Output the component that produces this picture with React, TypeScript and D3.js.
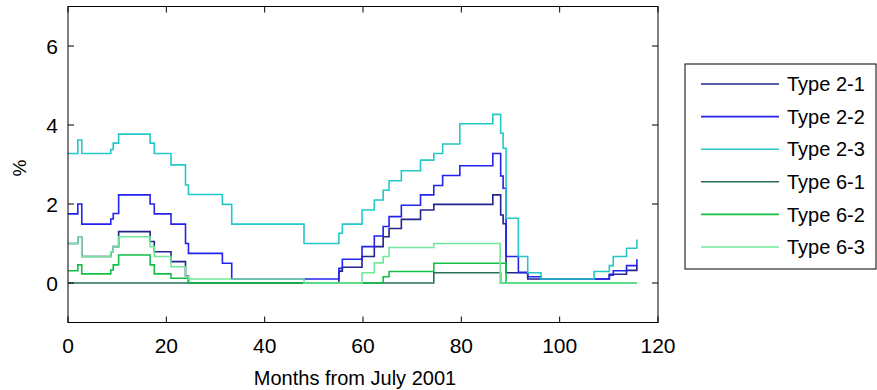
import React from "react";
import * as d3 from "d3";

const seriesNames = ["Type 2-1", "Type 2-2", "Type 2-3", "Type 6-1", "Type 6-2", "Type 6-3"];
const seriesColors = ["#23238f", "#2323f0", "#25c8c8", "#2a6e5a", "#12c045", "#72e89a"];

const type21: [number, number][] = [
  [0, 1.0], [2, 1.16], [2.8, 0.67], [8.7, 0.79], [9.2, 0.92], [10.3, 1.3], [16.7, 1.05], [17.55, 0.79],
  [20.95, 0.54], [23.9, 0.17], [24.5, 0],
  [55.1, 0.3], [55.8, 0.4], [59.8, 0.67], [62.3, 0.92], [64.1, 1.17], [65.3, 1.38], [67.8, 1.61],
  [71.7, 1.85], [74.4, 1.99], [86.4, 2.23], [88, 1.72], [88.5, 1.5], [89.1, 0.26], [93.5, 0.1],
  [110.1, 0.22], [113.6, 0.32], [115.7, 0.45],
];
const type22: [number, number][] = [
  [0, 1.75], [2, 2.0], [2.8, 1.49], [8.7, 1.62], [9.2, 1.76], [10.3, 2.23], [16.7, 2.0], [17.55, 1.75],
  [20.95, 1.49], [23.9, 1.0], [24.5, 0.75], [31.4, 0.5], [33.3, 0.1], [55.1, 0.37], [55.8, 0.6],
  [59.8, 0.92], [62.3, 1.19], [64.1, 1.43], [65.3, 1.68], [67.8, 1.97], [71.7, 2.23], [74.4, 2.47],
  [76.2, 2.72], [79.7, 2.97], [86.4, 3.28], [88, 2.71], [88.5, 2.4], [89.1, 0.67], [91.6, 0.27],
  [93.5, 0.16], [96.2, 0.1], [110.1, 0.2], [110.9, 0.31], [113.6, 0.44], [115.7, 0.6],
];
const type23: [number, number][] = [
  [0, 3.28], [2, 3.62], [2.8, 3.28], [8.7, 3.38], [9.2, 3.54], [10.3, 3.77], [16.7, 3.54], [17.55, 3.28],
  [20.95, 2.99], [23.9, 2.48], [24.5, 2.24], [31.4, 1.99], [33.3, 1.49], [48, 1.0], [55.1, 1.26],
  [55.8, 1.49], [59.8, 1.85], [62.3, 2.1], [64.1, 2.35], [65.3, 2.59], [67.8, 2.84], [71.7, 3.11],
  [74.4, 3.28], [76.2, 3.52], [79.7, 4.03], [86.4, 4.27], [88, 3.79], [88.5, 3.41], [89.1, 1.64],
  [91.6, 0.67], [93.5, 0.26], [96.2, 0.1], [107, 0.29], [110.1, 0.44], [110.9, 0.67], [113.6, 0.88],
  [115.7, 1.1],
];
const type61: [number, number][] = [
  [0, 0], [74.4, 0.26], [88, 0], [115.7, 0],
];
const type62: [number, number][] = [
  [0, 0.31], [2, 0.46], [2.8, 0.23], [8.7, 0.33], [9.2, 0.46], [10.3, 0.71], [16.7, 0.46], [17.55, 0.23],
  [20.95, 0.12], [24.5, 0], [64.1, 0.16], [65.3, 0.29], [74.4, 0.5], [89.1, 0], [115.7, 0],
];
const type63: [number, number][] = [
  [0, 1.0], [2, 1.16], [2.8, 0.67], [8.7, 0.79], [9.2, 0.92], [10.3, 1.17], [16.7, 0.92], [17.55, 0.67],
  [20.95, 0.41], [23.9, 0.16], [24.5, 0.1], [48, 0], [59.8, 0.26], [62.3, 0.51], [64.1, 0.67],
  [65.3, 0.9], [74.4, 1.0], [87.9, 0], [115.7, 0],
];
const allSeries = [type21, type22, type23, type61, type62, type63];

const xTicks = [0, 20, 40, 60, 80, 100, 120];
const yTicks = [0, 2, 4, 6];
const xLabel = "Months from July 2001";
const yLabel = "%";

const W = 877;
const H = 390;
const L = 68, R = 658, T = 6.5, B = 322.5;
const FONT = "'Liberation Sans', Arial, Helvetica, sans-serif";

export default function App() {
  const x = d3.scaleLinear().domain([0, 120]).range([L, R]);
  const y = d3.scaleLinear().domain([-1, 7]).range([B, T]);
  const line = d3
    .line<[number, number]>()
    .x((d) => x(d[0]))
    .y((d) => y(d[1]))
    .curve(d3.curveStepAfter);
  const tl = 6;
  const legX = 685, legY = 64, legW = 191, legH = 205;
  const rowY = d3.scaleLinear().domain([0, 5]).range([84, 247]);

  return (
    <svg
      width={W}
      height={H}
      style={{ position: "absolute", left: 0, top: 0, background: "#fff" }}
      fontFamily={FONT}
    >
      <rect x={0} y={0} width={W} height={H} fill="#fff" />
      {allSeries.map((s, i) => (
        <path key={i} d={line(s) || ""} fill="none" stroke={seriesColors[i]} strokeWidth={1.6} />
      ))}
      <rect x={L} y={T} width={R - L} height={B - T} fill="none" stroke="#000" strokeWidth={1} />
      {xTicks.map((t) => (
        <g key={"x" + t}>
          <line x1={x(t)} x2={x(t)} y1={B} y2={B - tl} stroke="#000" />
          <line x1={x(t)} x2={x(t)} y1={T} y2={T + tl} stroke="#000" />
          <text x={x(t)} y={353} textAnchor="middle" fontSize={21} fill="#000">
            {t}
          </text>
        </g>
      ))}
      {yTicks.map((t) => (
        <g key={"y" + t}>
          <line x1={L} x2={L + tl} y1={y(t)} y2={y(t)} stroke="#000" />
          <line x1={R} x2={R - tl} y1={y(t)} y2={y(t)} stroke="#000" />
          <text x={58} y={y(t)} dy="0.36em" textAnchor="end" fontSize={21} fill="#000">
            {t}
          </text>
        </g>
      ))}
      <text x={355} y={385} textAnchor="middle" fontSize={20} fill="#000">
        {xLabel}
      </text>
      <text
        transform={`translate(26,168) rotate(-90)`}
        textAnchor="middle"
        fontSize={19}
        fill="#000"
      >
        {yLabel}
      </text>
      <rect x={legX} y={legY} width={legW} height={legH} fill="#fff" stroke="#000" strokeWidth={1} />
      {seriesNames.map((n, i) => (
        <g key={n}>
          <line x1={701} x2={779} y1={rowY(i)} y2={rowY(i)} stroke={seriesColors[i]} strokeWidth={1.6} />
          <text x={787} y={rowY(i)} dy="0.36em" fontSize={20} fill="#000">
            {n}
          </text>
        </g>
      ))}
    </svg>
  );
}
